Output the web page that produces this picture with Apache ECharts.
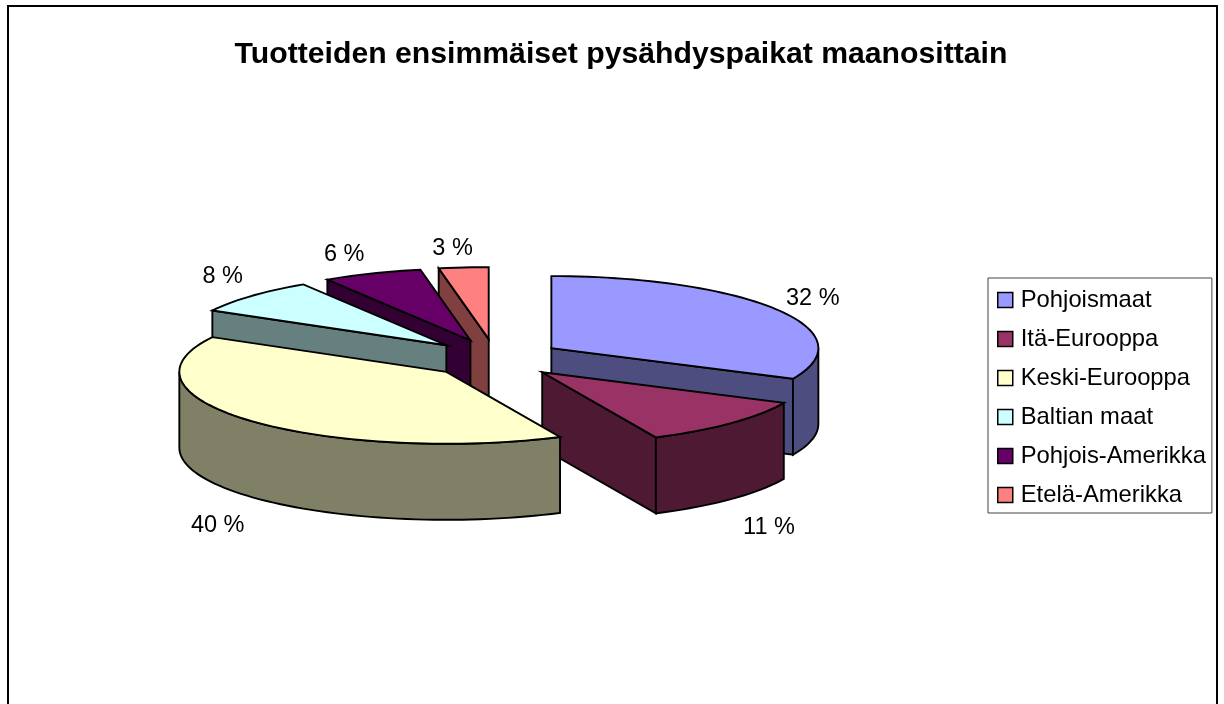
<!DOCTYPE html>
<html>
<head>
<meta charset="utf-8">
<style>html,body{margin:0;padding:0;background:#fff;overflow:hidden}#c{width:1224px;height:704px}</style>
<script src="https://cdn.jsdelivr.net/npm/echarts@6/dist/echarts.min.js"></script>
</head>
<body>
<div id="c"></div>
<script>
const titleText = 'Tuotteiden ensimmäiset pysähdyspaikat maanosittain';
const categories = ['Pohjoismaat', 'Itä-Eurooppa', 'Keski-Eurooppa', 'Baltian maat', 'Pohjois-Amerikka', 'Etelä-Amerikka'];
const shares = [32, 11, 40, 8, 6, 3];
const topColors = ['#9999FF', '#993366', '#FFFFCC', '#CCFFFF', '#660066', '#FF8080'];
const wallColors = ['#4D4D80', '#4D1933', '#808066', '#668080', '#330033', '#804040'];
const paintOrder = [5, 4, 3, 0, 1, 2];
const labelNudge = [[36, -11], [38, 28], [-34, 28], [-29, -19], [-28, -19], [-11, -19]];

const FONT = '"Liberation Sans", Arial, sans-serif';
const CX = 495, CY = 358.5, RX = 267, RY = 72, DEPTH = 76, EXPLODE_X = 0.25, EXPLODE_Y = 0.27;
const total = shares.reduce((a, b) => a + b, 0);
const rad = d => d * Math.PI / 180;

function slice(api, idx) {
  let before = 0;
  for (let i = 0; i < idx; i++) before += shares[i];
  const a = before / total * 360;
  const b = (before + api.value(0)) / total * 360;
  const mid = (a + b) / 2;
  const ax = CX + EXPLODE_X * RX * Math.sin(rad(mid));
  const ay = CY - EXPLODE_Y * RY * Math.cos(rad(mid));
  const pt = (t, dz) => [ax + RX * Math.sin(rad(t)), ay - RY * Math.cos(rad(t)) + (dz || 0)];
  const arc = (from, to, dz) => {
    const out = [], n = Math.max(2, Math.ceil((to - from) / 2));
    for (let k = 0; k <= n; k++) out.push(pt(from + (to - from) * k / n, dz));
    return out;
  };
  const style = fill => ({ fill: fill, stroke: '#000', lineWidth: 1.9, lineJoin: 'miter' });
  const children = [];
  const radial = t => ({
    type: 'polygon',
    shape: { points: [[ax, ay], pt(t), pt(t, DEPTH), [ax, ay + DEPTH]] },
    style: style(wallColors[idx])
  });
  if (Math.sin(rad(a)) < -1e-6) children.push(radial(a));
  if (Math.sin(rad(b)) > 1e-6) children.push(radial(b));
  const w0 = Math.max(a, 90), w1 = Math.min(b, 270);
  if (w1 > w0) {
    children.push({
      type: 'polygon',
      shape: { points: arc(w0, w1, 0).concat(arc(w0, w1, DEPTH).reverse()) },
      style: style(wallColors[idx])
    });
  }
  children.push({
    type: 'polygon',
    shape: { points: [[ax, ay]].concat(arc(a, b, 0)) },
    style: style(topColors[idx])
  });
  const front = Math.cos(rad(mid)) < 0 ? DEPTH : 0;
  const p = pt(mid, front);
  children.push({
    type: 'text',
    x: p[0] + labelNudge[idx][0],
    y: p[1] + labelNudge[idx][1],
    style: { text: api.value(0) + ' %', fill: '#000', font: '23.5px ' + FONT, align: 'center', verticalAlign: 'middle' }
  });
  return { type: 'group', children: children };
}

const series = categories.map((name, i) => ({
  type: 'custom',
  name: name,
  coordinateSystem: 'none',
  z: 2 + paintOrder.indexOf(i),
  silent: true,
  animation: false,
  itemStyle: { color: topColors[i] },
  data: [[shares[i]]],
  renderItem: (params, api) => slice(api, i)
}));

const chart = echarts.init(document.getElementById('c'), null, { renderer: 'canvas' });
chart.setOption({
  animation: false,
  backgroundColor: '#fff',
  title: {
    text: titleText, left: 616, top: 35, textAlign: 'center',
    textStyle: { fontFamily: FONT, fontSize: 30.2, fontWeight: 'bold', color: '#000' }
  },
  legend: {
    orient: 'vertical', left: 988, top: 278,
    data: categories, selectedMode: false, icon: 'rect',
    itemWidth: 15, itemHeight: 15, itemGap: 15,
    padding: [10, 6, 6, 9],
    backgroundColor: '#fff', borderColor: '#444', borderWidth: 1,
    itemStyle: { borderColor: '#000', borderWidth: 1.5 },
    textStyle: { fontFamily: FONT, fontSize: 23.8, color: '#000', padding: [0, 0, 0, 3] }
  },
  graphic: [{
    type: 'rect', silent: true, z: 0,
    shape: { x: 8, y: 6, width: 1209, height: 720 },
    style: { fill: 'none', stroke: '#000', lineWidth: 2 }
  }],
  series: series
});
</script>
</body>
</html>
